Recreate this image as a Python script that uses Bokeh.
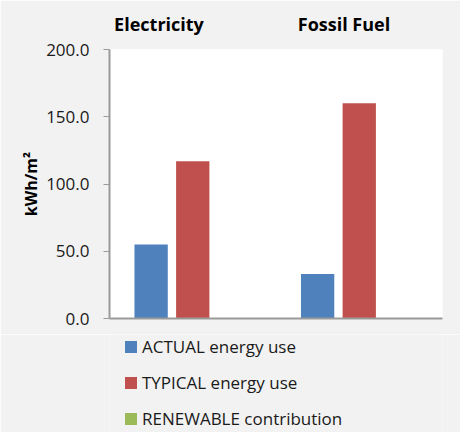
import numpy as np
from bokeh.plotting import figure
from bokeh.layouts import column
from bokeh.models import (ColumnDataSource, Legend, LegendItem, LinearAxis,
                          NumeralTickFormatter, FixedTicker, Range1d)
from bokeh.transform import dodge
from bokeh.embed import file_html
from bokeh.resources import INLINE

# ---- data ----
categories = ["Electricity", "Fossil Fuel"]
actual = [55.0, 33.0]
typical = [117.0, 160.0]
renewable = [0.0, 0.0]
series_names = ["ACTUAL energy use", "TYPICAL energy use", "RENEWABLE contribution"]
series_colors = ["#4f81bd", "#c0504d", "#9bbb59"]
y_ticks = [0, 50, 100, 150, 200]

FONT = "Open Sans"
BG = "#f2f2f2"

centers = np.arange(len(categories)) + 0.5
src = ColumnDataSource(dict(cat=categories, c=centers, actual=actual, typical=typical,
                            renewable=renewable, zero=[0.0] * len(categories)))

p = figure(width=460, height=334, x_range=Range1d(0, len(categories)),
           y_range=Range1d(0, 200), output_backend="svg", toolbar_location=None,
           min_border_left=109, min_border_right=18, min_border_top=49, min_border_bottom=16)
p.background_fill_color = "white"
p.border_fill_color = BG
p.outline_line_color = None
p.xgrid.grid_line_color = None
p.ygrid.grid_line_color = None

for col, off, color in zip(["actual", "typical", "renewable"], [-0.25, 0.0, 0.25], series_colors):
    p.vbar(x=dodge("c", off), top=col, width=0.2, source=src,
           fill_color=color, line_color=None)

# y axis
ya = p.yaxis[0]
ya.ticker = FixedTicker(ticks=y_ticks)
ya.formatter = NumeralTickFormatter(format="0.0")
ya.axis_line_color = "#9a9a9a"
ya.axis_line_width = 2
ya.major_tick_line_color = "#9a9a9a"
ya.major_tick_out = 6
ya.major_tick_in = 0
ya.minor_tick_line_color = None
ya.major_label_standoff = 14
ya.major_label_text_font = FONT
ya.major_label_text_font_size = "17px"
ya.major_label_text_color = "#1a1a1a"
ya.axis_label = "kWh/m²"
ya.axis_label_text_font = FONT
ya.axis_label_text_font_style = "bold"
ya.axis_label_text_font_size = "16px"
ya.axis_label_text_color = "#000000"
ya.axis_label_standoff = 1

# x axis: line only
xa = p.xaxis[0]
xa.ticker = FixedTicker(ticks=[])
xa.axis_line_color = "#9a9a9a"
xa.axis_line_width = 2
xa.major_tick_line_color = None
xa.minor_tick_line_color = None
xa.major_tick_out = 0
xa.major_label_standoff = 0
xa.major_label_text_font_size = "0px"
xa.major_label_text_color = None

# category headers above the plot (Excel places them slightly left of the groups)
p.extra_x_ranges = {"head": Range1d(0.2325, 2.0325)}
head_pos = [float(c) for c in centers]
top_axis = LinearAxis(x_range_name="head", ticker=FixedTicker(ticks=head_pos),
                      major_label_overrides={pos: name for pos, name in zip(head_pos, categories)},
                      axis_line_color=None, major_tick_line_color=None, minor_tick_line_color=None,
                      major_tick_out=0, major_tick_in=0, major_label_standoff=14,
                      major_label_text_font=FONT, major_label_text_font_style="bold",
                      major_label_text_font_size="18px", major_label_text_color="#000000")
p.add_layout(top_axis, "above")

# legend strip below the chart (its frame is aligned with the chart's frame)
q = figure(width=460, height=98, x_range=p.x_range, y_range=Range1d(0, 1),
           output_backend="svg", toolbar_location=None,
           x_axis_location=None, y_axis_location=None,
           min_border_left=109, min_border_right=18, min_border_top=0, min_border_bottom=0)
q.background_fill_color = BG
q.border_fill_color = BG
q.outline_line_color = None
q.xgrid.grid_line_color = None
q.ygrid.grid_line_color = None
# zero-height swatch carriers (nothing visible is drawn in the strip)
leg_renderers = [q.vbar(x="c", top="zero", bottom="zero", width=0.2, source=src,
                        fill_color=c, line_color=None) for c in series_colors]

legend = Legend(items=[LegendItem(label=n, renderers=[r]) for n, r in zip(series_names, leg_renderers)],
                location=(14, 2), orientation="vertical",
                glyph_width=15, glyph_height=15, label_height=20, spacing=13,
                label_standoff=4, padding=0, margin=0,
                label_text_font=FONT, label_text_font_size="17px", label_text_color="#1a1a1a",
                background_fill_alpha=0, border_line_color=None)
q.add_layout(legend, "center")

layout = column(p, q, spacing=0)
open("out.html", "w").write(file_html(layout, INLINE))
